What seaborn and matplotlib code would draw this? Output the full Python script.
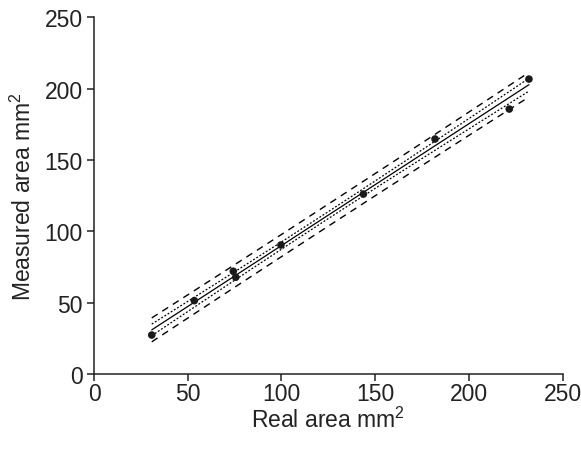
import numpy as np
import pandas as pd
import matplotlib
matplotlib.use("Agg")
import matplotlib.pyplot as plt
import seaborn as sns

real_area = [30.8, 53.5, 74.3, 75.6, 99.7, 143.7, 181.9, 221.5, 232.0]
measured_area = [27.3, 51.4, 72.0, 67.8, 90.4, 126.1, 164.7, 185.7, 206.7]
band_sd = 3.1   # residual SD implied by the band widths in the original
t_val = 2.365   # t(0.975, df=7)

sns.set_theme(style="ticks")
plt.rcParams['font.family'] = ['Liberation Sans', 'DejaVu Sans']
plt.rcParams['mathtext.fontset'] = 'custom'
plt.rcParams['mathtext.rm'] = 'Liberation Sans'
plt.rcParams['mathtext.it'] = 'Liberation Sans'

x = np.array(real_area)
y = np.array(measured_area)
n = len(x)
slope, intercept = np.polyfit(x, y, 1)
xs = np.linspace(x.min(), x.max(), 100)
fit = slope * xs + intercept
sxx = np.sum((x - x.mean()) ** 2)
ci = t_val * band_sd * np.sqrt(1 / n + (xs - x.mean()) ** 2 / sxx)
pi = t_val * band_sd * np.sqrt(1 + 1 / n + (xs - x.mean()) ** 2 / sxx)

fig = plt.figure(figsize=(5.81, 4.52), dpi=100)
ax = fig.add_axes([0.1618, 0.1704, 0.8067, 0.7891])

sns.lineplot(x=xs, y=fit, ax=ax, color='black', lw=0.9)
for band in (fit + ci, fit - ci):
    sns.lineplot(x=xs, y=band, ax=ax, color='black', lw=0.9, linestyle=(0, (1.5, 1.5)))
for band in (fit + pi, fit - pi):
    sns.lineplot(x=xs, y=band, ax=ax, color='black', lw=1.0, linestyle=(0, (5, 4)))
sns.scatterplot(x=real_area, y=measured_area, ax=ax, color='#1a1a1a', s=30,
                edgecolor='none', zorder=5)

ax.set_xlim(0, 250)
ax.set_ylim(0, 250)
ax.set_xticks(range(0, 251, 50))
ax.set_yticks(range(0, 251, 50))
ax.set_xlabel('Real area mm$^2$', fontsize=16.5, color='#222222', labelpad=1)
ax.set_ylabel('Measured area mm$^2$', fontsize=16.5, color='#222222', labelpad=6)
ax.tick_params(labelsize=16.5, colors='#222222', length=5, width=1.1, direction='out')
ax.tick_params(axis='x', pad=1)
ax.tick_params(axis='y', pad=3)
sns.despine(ax=ax)
for sp in ax.spines.values():
    sp.set_linewidth(1.1)
    sp.set_color('#222222')

fig.savefig('out.png', dpi=100)
